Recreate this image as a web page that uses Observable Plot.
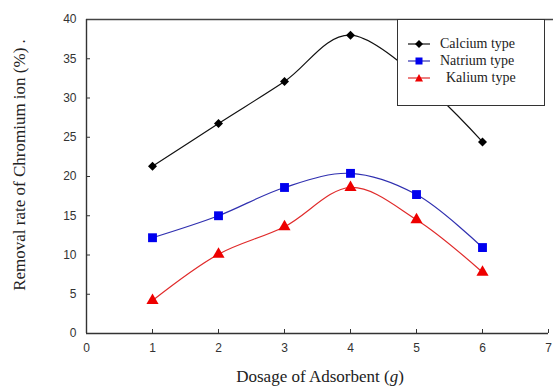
<!DOCTYPE html>
<html><head><meta charset="utf-8">
<script src="https://cdn.jsdelivr.net/npm/d3@7"></script>
<script src="https://cdn.jsdelivr.net/npm/@observablehq/plot@0.6"></script>
<style>
body{margin:0;background:#fff;}
#wrap{position:relative;width:553px;height:387px;overflow:hidden;}
.lab{position:absolute;font-family:"Liberation Serif","DejaVu Serif",serif;color:#222;white-space:nowrap;}
#legend{position:absolute;left:397px;top:19px;width:148px;height:87px;border:1.3px solid #333;background:#fff;box-sizing:border-box;color:#222;}
.row{position:absolute;left:10px;height:16px;display:flex;align-items:center;}
.row span{margin-left:10px;font-family:"Liberation Serif","DejaVu Serif",serif;font-size:14px;}
</style></head>
<body><div id="wrap"></div>
<script>
const dosage = [1, 2, 3, 4, 5, 6];
const calciumX = [1, 2, 3, 4, 6];
const calcium = [21.3, 26.75, 32.1, 38.0, 24.4];
const natrium = [12.2, 15.0, 18.6, 20.4, 17.7, 10.95];
const kalium = [4.2, 10.1, 13.6, 18.6, 14.5, 7.8];
const xTicks = [0, 1, 2, 3, 4, 5, 6, 7];
const yTicks = [0, 5, 10, 15, 20, 25, 30, 35, 40];
const seriesNames = ["Calcium type", "Natrium type", "Kalium type"];

const cData = calciumX.map((x, i) => ({x, y: calcium[i]}));
const nData = dosage.map((x, i) => ({x, y: natrium[i]}));
const kData = dosage.map((x, i) => ({x, y: kalium[i]}));

const plot = Plot.plot({
  width: 553, height: 387,
  marginLeft: 86, marginRight: 5, marginTop: 19, marginBottom: 54,
  x: {domain: [0, 7]},
  y: {domain: [0, 40]},
  style: {fontFamily: "Arial, 'Liberation Sans', sans-serif", fontSize: "12px", color: "#333"},
  marks: [
    Plot.axisX({ticks: xTicks, tickFormat: d3.format("d"), tickSize: -4, tickPadding: 14, label: null, anchor: "bottom", fontSize: 12}),
    Plot.axisY({ticks: yTicks, tickFormat: d3.format("d"), tickSize: -4, tickPadding: 14, label: null, anchor: "left", fontSize: 12}),
    Plot.ruleY([0], {stroke: "#333", strokeWidth: 1.4}),
    Plot.ruleY([40], {stroke: "#444", strokeWidth: 1.4, x1: 0, x2: 7.1}),
    Plot.ruleX([0], {stroke: "#333", strokeWidth: 1.4}),
    Plot.line(cData, {x: "x", y: "y", curve: "catmull-rom", stroke: "#111", strokeWidth: 1.2}),
    Plot.line(nData, {x: "x", y: "y", curve: "catmull-rom", stroke: "#3030b0", strokeWidth: 1.2}),
    Plot.line(kData, {x: "x", y: "y", curve: "catmull-rom", stroke: "#e02a2a", strokeWidth: 1.2}),
    Plot.dot(cData, {x: "x", y: "y", symbol: "square", rotate: 45, fill: "#000", r: 3.6}),
    Plot.dot(nData, {x: "x", y: "y", symbol: "square", fill: "#0000ee", r: 5}),
    Plot.dot(kData, {x: "x", y: "y", symbol: "triangle", fill: "#ee0000", r: 4.5})
  ]
});
const wrap = document.getElementById("wrap");
wrap.appendChild(plot);

const yl = document.createElement("div");
yl.className = "lab";
yl.style.cssText = "left:20px;top:165px;font-size:17px;transform:translate(-50%,-50%) rotate(-90deg);";
yl.textContent = "Removal rate of Chromium ion  (%)  .";
wrap.appendChild(yl);

const xl = document.createElement("div");
xl.className = "lab";
xl.style.cssText = "left:320px;top:377px;font-size:17px;transform:translate(-50%,-50%);";
xl.innerHTML = "Dosage of Adsorbent (<i>g</i>)";
wrap.appendChild(xl);

const leg = document.createElement("div");
leg.id = "legend";
const syms = [
  {c: "#111", s: '<path d="M11 0 L15 4 L11 8 L7 4Z" fill="#000"/>'},
  {c: "#3030b0", s: '<rect x="7.5" y="0.5" width="7" height="7" fill="#0000ee"/>'},
  {c: "#e02a2a", s: '<path d="M11 0 L15 7.5 L7 7.5Z" fill="#ee0000"/>'}
];
seriesNames.forEach((name, i) => {
  const r = document.createElement("div");
  r.className = "row";
  r.style.top = (16 + i * 17) + "px";
  r.innerHTML = `<svg width="22" height="8"><line x1="0" y1="4" x2="22" y2="4" stroke="${syms[i].c}" stroke-width="1.2"/>${syms[i].s}</svg>`;
  const t = document.createElement("span");
  t.textContent = name;
  if (i === 2) t.style.marginLeft = "16px";
  r.appendChild(t);
  leg.appendChild(r);
});
wrap.appendChild(leg);
</script></body></html>
